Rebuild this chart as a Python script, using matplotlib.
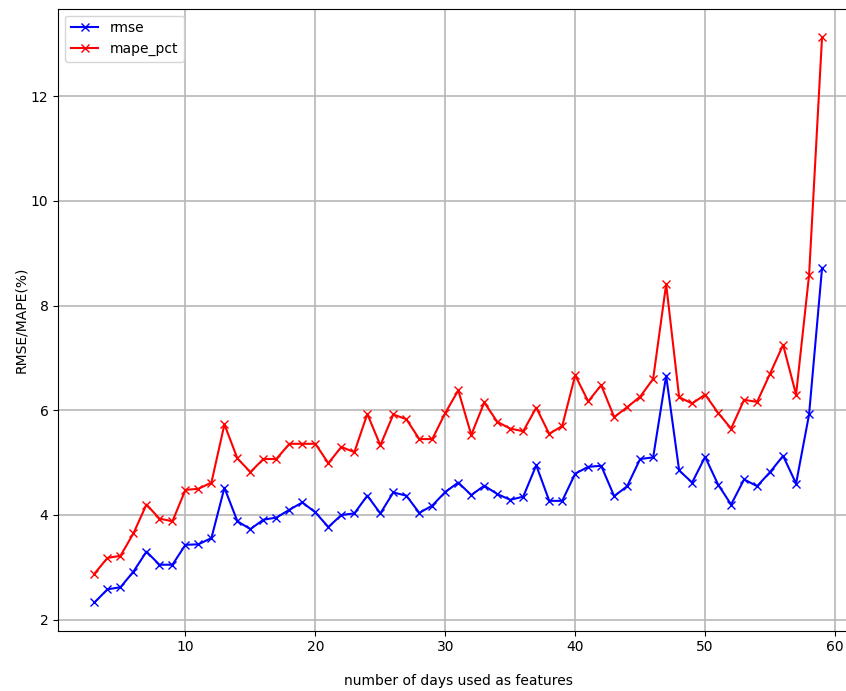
import matplotlib
matplotlib.use("Agg")
import matplotlib.pyplot as plt

# error metrics vs. length of the feature window
days = list(range(3, 60))
rmse = [2.33, 2.58, 2.62, 2.92, 3.30, 3.05, 3.05, 3.43, 3.44, 3.56,
        4.52, 3.88, 3.73, 3.91, 3.95, 4.10, 4.24, 4.05, 3.77, 4.00,
        4.03, 4.37, 4.03, 4.43, 4.37, 4.04, 4.18, 4.44, 4.62, 4.38,
        4.56, 4.40, 4.29, 4.35, 4.95, 4.27, 4.27, 4.79, 4.92, 4.94,
        4.36, 4.55, 5.07, 5.10, 6.66, 4.85, 4.62, 5.11, 4.58, 4.20,
        4.68, 4.55, 4.82, 5.13, 4.60, 5.92, 8.72]
mape_pct = [2.88, 3.18, 3.22, 3.65, 4.20, 3.93, 3.88, 4.48, 4.50, 4.62,
            5.73, 5.08, 4.82, 5.07, 5.07, 5.36, 5.36, 5.36, 4.99, 5.30,
            5.20, 5.93, 5.33, 5.92, 5.83, 5.45, 5.45, 5.95, 6.38, 5.53,
            6.15, 5.78, 5.65, 5.60, 6.05, 5.55, 5.70, 6.67, 6.17, 6.48,
            5.87, 6.06, 6.26, 6.60, 8.41, 6.25, 6.13, 6.30, 5.95, 5.65,
            6.20, 6.16, 6.70, 7.25, 6.30, 8.58, 13.13]

fig = plt.figure(figsize=(8.46, 6.91), dpi=100)
ax = fig.add_axes([0.0687, 0.0873, 0.946, 0.90])
ax.plot(days, rmse, color="blue", marker="x", label="rmse")
ax.plot(days, mape_pct, color="red", marker="x", label="mape_pct")
ax.grid(True, linewidth=1.2, color="#b8b8b8")
ax.set_xlabel("number of days used as features", labelpad=14)
ax.set_ylabel("RMSE/MAPE(%)", labelpad=2)
ax.legend(loc="upper left")
fig.savefig("out.png", dpi=100)
